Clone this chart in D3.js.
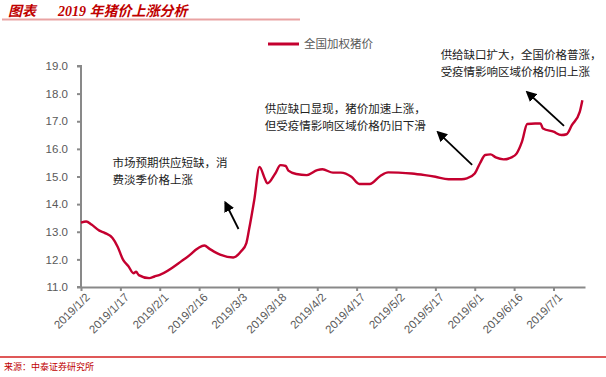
<!DOCTYPE html>
<html lang="zh">
<head>
<meta charset="UTF-8" />
<script src="https://cdnjs.cloudflare.com/ajax/libs/d3/7.8.5/d3.min.js"></script>
<title>2019年猪价上涨分析</title>
<style>
  body { margin: 0; background: #fff; }
  svg { display: block; }
  text { font-family: "Liberation Sans", Arial, sans-serif; }
  .cn { font-family: "Noto Sans CJK SC", sans-serif; }
</style>
</head>
<body>
<svg width="606" height="377"></svg>
<script>
  // 数据: 全国加权猪价 (元/公斤)
  const dates = [
    '2019-01-02', '2019-01-04', '2019-01-06', '2019-01-09', '2019-01-11', '2019-01-14',
    '2019-01-16', '2019-01-18', '2019-01-20', '2019-01-22', '2019-01-23', '2019-01-24',
    '2019-01-28', '2019-01-30', '2019-02-01', '2019-02-11', '2019-02-18', '2019-02-20',
    '2019-02-24', '2019-03-01', '2019-03-04', '2019-03-06', '2019-03-07', '2019-03-09',
    '2019-03-11', '2019-03-13', '2019-03-14', '2019-03-17', '2019-03-19', '2019-03-21',
    '2019-03-22', '2019-03-25', '2019-03-29', '2019-04-02', '2019-04-04', '2019-04-08',
    '2019-04-11', '2019-04-15', '2019-04-18', '2019-04-22', '2019-04-26', '2019-04-29',
    '2019-05-03', '2019-05-08', '2019-05-13', '2019-05-17', '2019-05-22', '2019-05-27',
    '2019-05-29', '2019-06-01', '2019-06-03', '2019-06-05', '2019-06-07', '2019-06-09',
    '2019-06-12', '2019-06-15', '2019-06-17', '2019-06-19', '2019-06-21', '2019-06-24',
    '2019-06-26', '2019-06-27', '2019-07-01', '2019-07-04', '2019-07-06', '2019-07-08',
    '2019-07-11', '2019-07-12'
  ];
  const prices = [
    13.33, 13.37, 13.26, 13.04, 12.96, 12.77,
    12.45, 11.99, 11.76, 11.50, 11.55, 11.43,
    11.32, 11.38, 11.44, 12.05, 12.50, 12.38,
    12.17, 12.07, 12.29, 12.59, 13.07, 14.15,
    15.35, 14.93, 14.75, 15.11, 15.41, 15.38,
    15.21, 15.09, 15.05, 15.23, 15.26, 15.14,
    15.14, 14.99, 14.73, 14.73, 15.02, 15.15,
    15.14, 15.11, 15.05, 14.99, 14.90, 14.90,
    14.93, 15.11, 15.48, 15.78, 15.80, 15.69,
    15.62, 15.69, 15.84, 16.26, 16.90, 16.92,
    16.92, 16.74, 16.62, 16.50, 16.53, 16.86,
    17.34, 17.76
  ];
  const xTicks = ['2019/1/2', '2019/1/17', '2019/2/1', '2019/2/16', '2019/3/3', '2019/3/18',
    '2019/4/2', '2019/4/17', '2019/5/2', '2019/5/17', '2019/6/1', '2019/6/16', '2019/7/1'];
  const yTicks = [11, 12, 13, 14, 15, 16, 17, 18, 19];

  const notes = [
    { lines: ['市场预期供应短缺，消', '费淡季价格上涨'], date: '2019-01-14', y: 163 },
    { lines: ['供应缺口显现，猪价加速上涨，', '但受疫情影响区域价格仍旧下滑'], date: '2019-03-13', y: 109 },
    { lines: ['供给缺口扩大，全国价格普涨，', '受疫情影响区域价格仍旧上涨'], date: '2019-05-19', y: 55 }
  ];
  // 箭头: [尾部日期, 尾部值, 头部日期, 头部值]
  const arrows = [
    ['2019-03-03', 13.1, '2019-02-26', 14.05],
    ['2019-05-31', 15.42, '2019-05-18', 16.6],
    ['2019-07-05', 16.83, '2019-06-21', 18.05]
  ];

  const parse = d3.timeParse('%Y-%m-%d');
  const parseTick = d3.timeParse('%Y/%m/%d');
  const data = dates.map((d, i) => ({ date: parse(d), value: prices[i] }));

  const svg = d3.select('svg');
  const red = '#c00000';
  const lineRed = '#c4002f';
  const axisGray = '#898989';
  const textGray = '#595959';

  // 标题
  svg.append('text').attr('class', 'cn')
    .attr('x', 8).attr('y', 16)
    .attr('font-size', 14).attr('font-style', 'italic').attr('font-weight', 'bold')
    .attr('fill', red).text('图表');
  svg.append('text')
    .attr('x', 58).attr('y', 16)
    .attr('font-size', 14).attr('font-style', 'italic').attr('font-weight', 'bold')
    .attr('fill', red)
    .call(t => {
      t.append('tspan').attr('font-family', '"Liberation Serif", serif').text('2019 ');
      t.append('tspan').attr('font-family', '"Noto Sans CJK SC", sans-serif').text('年猪价上涨分析');
    });
  svg.append('line')
    .attr('x1', 2).attr('x2', 300).attr('y1', 19.5).attr('y2', 19.5)
    .attr('stroke', '#e9a3a3').attr('stroke-width', 2);

  // 比例尺
  const x = d3.scaleTime()
    .domain([parse('2019-01-02'), parse('2019-07-13')])
    .range([81, 585]);
  const y = d3.scaleLinear().domain([11, 19]).range([287, 66]);

  // y轴
  const yAxis = d3.axisLeft(y).tickValues(yTicks).tickFormat(d3.format('.1f')).tickSize(4).tickPadding(9);
  const gy = svg.append('g').attr('transform', 'translate(81,0)').call(yAxis);
  gy.select('.domain').attr('d', 'M-4,66H0V287H-4').attr('stroke', axisGray).attr('stroke-width', 2);
  gy.selectAll('.tick line').attr('stroke', axisGray).attr('stroke-width', 2);
  gy.selectAll('.tick text').attr('font-size', 11.5).attr('fill', textGray)
    .attr('font-family', '"Liberation Sans", Arial, sans-serif');

  // x轴
  const xAxis = d3.axisBottom(x).tickValues(xTicks.map(parseTick))
    .tickFormat(d3.timeFormat('%Y/%-m/%-d')).tickSize(4).tickSizeOuter(0);
  const gx = svg.append('g').attr('transform', 'translate(0,287)').call(xAxis);
  gx.select('.domain').attr('stroke', axisGray).attr('stroke-width', 2);
  gx.selectAll('.tick line').attr('stroke', axisGray).attr('stroke-width', 2);
  gx.selectAll('.tick text')
    .attr('font-size', 11.5).attr('fill', textGray)
    .attr('font-family', '"Liberation Sans", Arial, sans-serif')
    .attr('text-anchor', 'end')
    .attr('dy', null)
    .attr('transform', 'translate(4,6) rotate(-45)');

  // 折线
  const line = d3.line()
    .x(d => x(d.date))
    .y(d => y(d.value))
    .curve(d3.curveMonotoneX);
  svg.append('path').datum(data)
    .attr('d', line)
    .attr('fill', 'none')
    .attr('stroke', lineRed)
    .attr('stroke-width', 2.4)
    .attr('stroke-linejoin', 'round');

  // 图例
  svg.append('line').attr('x1', 268).attr('x2', 299).attr('y1', 44).attr('y2', 44)
    .attr('stroke', lineRed).attr('stroke-width', 3);
  svg.append('text').attr('class', 'cn')
    .attr('x', 304).attr('y', 48)
    .attr('font-size', 11.5).attr('fill', textGray)
    .text('全国加权猪价');

  // 注释文字
  notes.forEach(n => {
    const t = svg.append('text').attr('class', 'cn')
      .attr('x', x(parse(n.date))).attr('y', n.y + 4)
      .attr('font-size', 11.5).attr('fill', '#222');
    n.lines.forEach((s, i) => {
      t.append('tspan').attr('x', x(parse(n.date))).attr('dy', i === 0 ? 0 : 17).text(s);
    });
  });

  // 箭头
  svg.append('defs').append('marker')
    .attr('id', 'head')
    .attr('viewBox', '0 0 10 10')
    .attr('refX', 8).attr('refY', 5)
    .attr('markerWidth', 6).attr('markerHeight', 6)
    .attr('markerUnits', 'strokeWidth')
    .attr('orient', 'auto')
    .append('path').attr('d', 'M0,0L10,5L0,10z').attr('fill', '#000');

  arrows.forEach(a => {
    svg.append('line')
      .attr('x1', x(parse(a[0]))).attr('y1', y(a[1]))
      .attr('x2', x(parse(a[2]))).attr('y2', y(a[3]))
      .attr('stroke', '#000').attr('stroke-width', 1.8)
      .attr('marker-end', 'url(#head)');
  });

  // 来源
  svg.append('line').attr('x1', 0).attr('x2', 606).attr('y1', 357).attr('y2', 357)
    .attr('stroke', '#d42020').attr('stroke-width', 1.5);
  svg.append('text').attr('class', 'cn')
    .attr('x', 4).attr('y', 370)
    .attr('font-size', 9).attr('fill', red)
    .text('来源：中泰证券研究所');
</script>
</body>
</html>
